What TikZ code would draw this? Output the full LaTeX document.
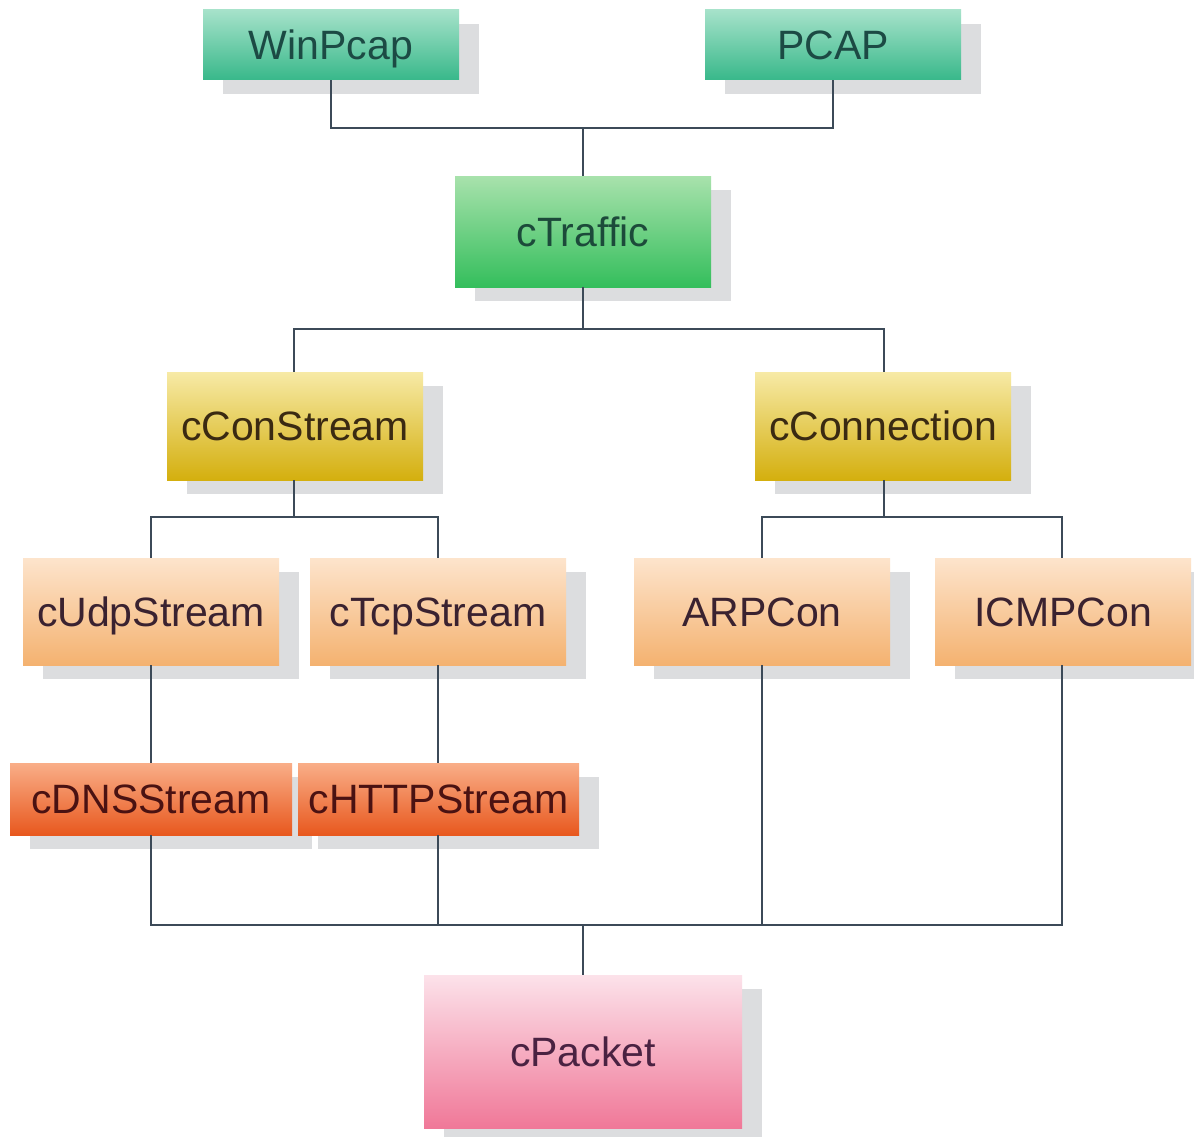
\documentclass[tikz,border=0pt]{standalone}
\usepackage{fontspec}
\setmainfont{Liberation Sans}
\usetikzlibrary{shadows}

% fill colours (top / bottom of each gradient) and text colours
\definecolor{tealT}{HTML}{A6E2CA}
\definecolor{tealB}{HTML}{38B88A}
\definecolor{tealTx}{HTML}{1C4A44}
\definecolor{greenT}{HTML}{A8E2AC}
\definecolor{greenB}{HTML}{34BE5C}
\definecolor{greenTx}{HTML}{1C4A3A}
\definecolor{goldT}{HTML}{F7EAA6}
\definecolor{goldB}{HTML}{D4AF0E}
\definecolor{goldTx}{HTML}{3A2A12}
\definecolor{peachT}{HTML}{FDE4CC}
\definecolor{peachB}{HTML}{F4B270}
\definecolor{peachTx}{HTML}{3A2230}
\definecolor{orangeT}{HTML}{F9AE88}
\definecolor{orangeB}{HTML}{E8581E}
\definecolor{orangeTx}{HTML}{4A1212}
\definecolor{pinkT}{HTML}{FCE2EA}
\definecolor{pinkB}{HTML}{F07898}
\definecolor{pinkTx}{HTML}{4A2242}
\definecolor{shadowgray}{HTML}{DCDDDF}
\definecolor{wire}{HTML}{3C4A58}

\tikzset{
  box/.style={rectangle, inner sep=0pt, align=center,
    font=\fontsize{41}{41}\selectfont,
    text height=29.5pt, text depth=0pt,
    drop shadow={shadow xshift=20pt, shadow yshift=-14pt, fill=shadowgray, opacity=1}},
  capbox/.style={box, top color=tealT, bottom color=tealB, text=tealTx,
    minimum width=256pt, minimum height=70pt},
  trafficbox/.style={box, top color=greenT, bottom color=greenB, text=greenTx,
    minimum width=256pt, minimum height=111pt},
  midbox/.style={box, top color=goldT, bottom color=goldB, text=goldTx,
    minimum width=256pt, minimum height=108pt},
  leafbox/.style={box, top color=peachT, bottom color=peachB, text=peachTx,
    minimum width=256pt, minimum height=107pt},
  protobox/.style={box, top color=orangeT, bottom color=orangeB, text=orangeTx,
    minimum height=72pt},
  packetbox/.style={box, top color=pinkT, bottom color=pinkB, text=pinkTx,
    minimum width=318pt, minimum height=153pt},
  link/.style={draw=wire, line width=1.4pt}
}

\begin{document}
\begin{tikzpicture}[x=1pt, y=-1pt]
  \useasboundingbox (0,0) rectangle (1194,1137);
  \fill[white] (0,0) rectangle (1194,1137);

  % capture back-ends
  \node[capbox] (win)  at (331,45) {WinPcap};
  \node[capbox] (pcap) at (833,45) {PCAP};

  % traffic manager
  \node[trafficbox] (traffic) at (583,231.5) {cTraffic};

  % stream / connection managers
  \node[midbox] (constream)  at (295,426) {cConStream};
  \node[midbox] (connection) at (883,426) {cConnection};

  % transport-level classes
  \node[leafbox] (udp)  at (151,611.5) {cUdpStream};
  \node[leafbox] (tcp)  at (438,611.5) {cTcpStream};
  \node[leafbox] (arp)  at (762,611.5) {ARPCon};
  \node[leafbox] (icmp) at (1063,611.5) {ICMPCon};

  % application-level streams
  \node[protobox, minimum width=282pt] (dns)  at (151,799) {cDNSStream};
  \node[protobox, minimum width=281pt] (http) at (438.5,799) {cHTTPStream};

  % packet
  \node[packetbox] (packet) at (583,1051.5) {cPacket};

  % junction points
  \coordinate (jtop) at (583,128);
  \coordinate (jtraffic) at (583,329);
  \coordinate (jcs) at (294,517);
  \coordinate (jcn) at (884,517);
  \coordinate (jbot) at (583,925);

  % connectors
  \draw[link] (win.south) |- (jtop) -| (pcap.south);
  \draw[link] (jtop) -- (traffic.north);

  \draw[link] (traffic.south) -- (jtraffic);
  \draw[link] (constream.north -| jcs) |- (jtraffic) -| (connection.north -| jcn);

  \draw[link] (constream.south -| jcs) -- (jcs);
  \draw[link] (udp.north) |- (jcs) -| (tcp.north);
  \draw[link] (connection.south -| jcn) -- (jcn);
  \draw[link] (arp.north) |- (jcn) -| (icmp.north -| 1062,0);

  \draw[link] (udp.south) -- (dns.north -| udp.south);
  \draw[link] (tcp.south) -- (http.north -| tcp.south);

  \draw[link] (dns.south) |- (jbot) -| (icmp.south -| 1062,0);
  \draw[link] (http.south -| tcp.south) -- (tcp.south |- jbot);
  \draw[link] (arp.south) -- (arp.south |- jbot);
  \draw[link] (jbot) -- (packet.north);
\end{tikzpicture}
\end{document}
